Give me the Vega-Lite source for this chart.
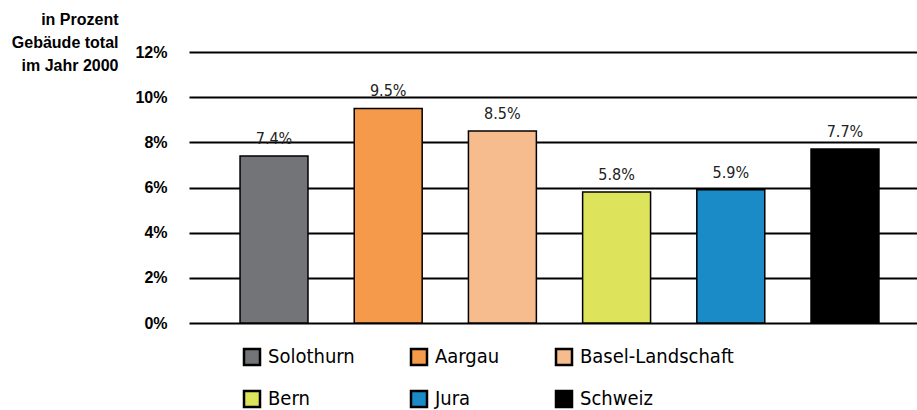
{
  "$schema": "https://vega.github.io/schema/vega-lite/v6.json",
  "width": 728,
  "height": 271,
  "autosize": {"type": "none"},
  "padding": {"left": 189, "top": 52, "right": 0, "bottom": 87},
  "background": "white",
  "config": {"view": {"stroke": null}, "font": "DejaVu Sans Condensed"},
  "data": {
    "values": [
      {"region": "Solothurn", "value": 0.074},
      {"region": "Aargau", "value": 0.095},
      {"region": "Basel-Landschaft", "value": 0.085},
      {"region": "Bern", "value": 0.058},
      {"region": "Jura", "value": 0.059},
      {"region": "Schweiz", "value": 0.077}
    ]
  },
  "encoding": {
    "x": {
      "field": "region",
      "type": "nominal",
      "sort": null,
      "axis": null,
      "scale": {"paddingInner": 0.405, "paddingOuter": 0.39, "align": 0.573}
    },
    "y": {
      "field": "value",
      "type": "quantitative",
      "scale": {"domain": [0, 0.12]},
      "axis": {
        "values": [0, 0.02, 0.04, 0.06, 0.08, 0.1, 0.12],
        "format": ".0%",
        "grid": true,
        "gridColor": "black",
        "gridWidth": 2,
        "gridOpacity": 1,
        "domain": false,
        "ticks": false,
        "labelPadding": 22,
        "labelFont": "Liberation Sans",
        "labelFontWeight": "bold",
        "labelFontSize": 16,
        "labelColor": "black",
        "labelDy": 1,
        "title": ["in Prozent", "Gebäude total", "im Jahr 2000"],
        "titleAngle": 0,
        "titleAlign": "right",
        "titleBaseline": "alphabetic",
        "titleX": -71,
        "titleY": -28,
        "titleFont": "Liberation Sans",
        "titleFontSize": 16,
        "titleFontWeight": "bold",
        "titleColor": "black",
        "titleLineHeight": 23
      }
    }
  },
  "layer": [
    {
      "mark": {"type": "bar", "stroke": "black", "strokeWidth": 1.5},
      "encoding": {
        "color": {
          "field": "region",
          "type": "nominal",
          "sort": null,
          "scale": {
            "domain": ["Solothurn", "Aargau", "Basel-Landschaft", "Bern", "Jura", "Schweiz"],
            "range": ["#737478", "#f5994b", "#f6bc8e", "#dde35a", "#1a8bc7", "#000000"]
          },
          "legend": {
            "orient": "none",
            "legendX": 53,
            "legendY": 295,
            "direction": "horizontal",
            "columns": 3,
            "columnPadding": 51,
            "rowPadding": 16,
            "symbolType": "square",
            "symbolSize": 256,
            "symbolStrokeColor": "black",
            "symbolStrokeWidth": 2.5,
            "labelFont": "DejaVu Sans Condensed",
            "labelFontSize": 20,
            "labelColor": "black",
            "labelOffset": 6,
            "title": null
          }
        }
      }
    },
    {
      "mark": {
        "type": "text",
        "baseline": "alphabetic",
        "dy": -12,
        "fontSize": 16,
        "font": "DejaVu Sans Condensed",
        "color": "#222222"
      },
      "encoding": {"text": {"field": "value", "type": "quantitative", "format": ".1%"}}
    }
  ]
}
